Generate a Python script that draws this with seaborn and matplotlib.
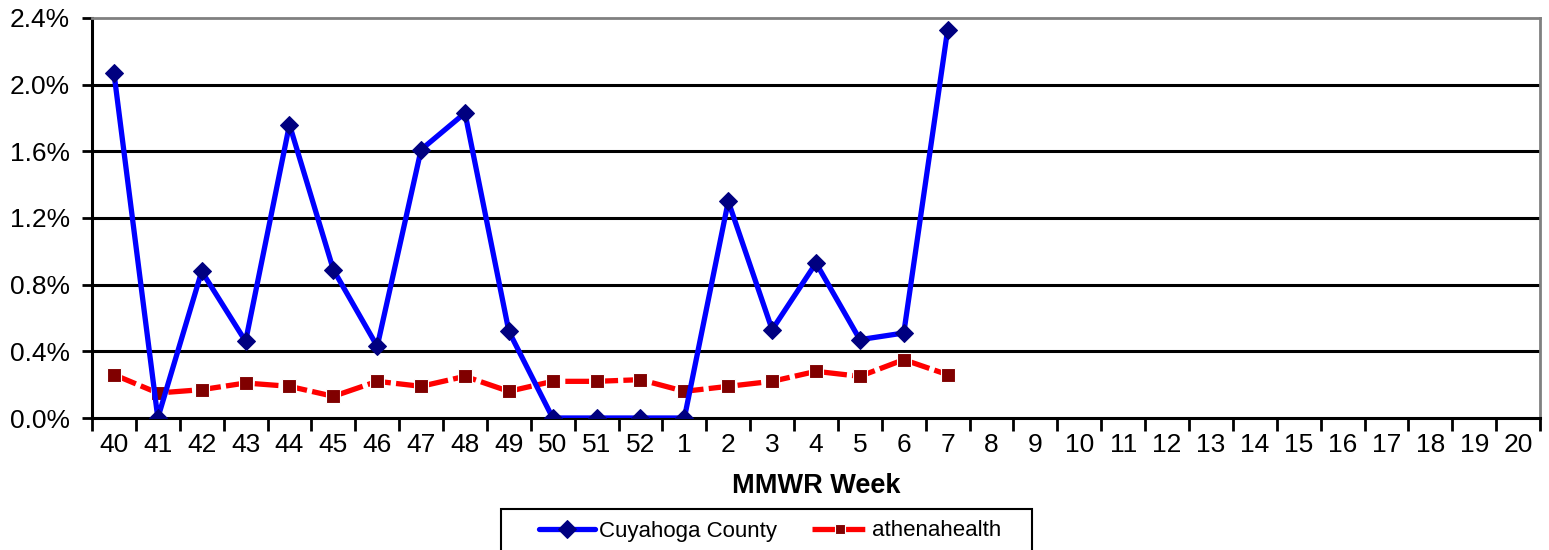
import matplotlib
matplotlib.use("Agg")
import matplotlib.pyplot as plt
import seaborn as sns
import pandas as pd
import numpy as np
from matplotlib.patches import Rectangle
from matplotlib.ticker import FixedLocator, FuncFormatter

# --- Data ---
weeks = ['40', '41', '42', '43', '44', '45', '46', '47', '48', '49', '50', '51', '52',
         '1', '2', '3', '4', '5', '6', '7', '8', '9', '10', '11', '12', '13', '14',
         '15', '16', '17', '18', '19', '20']
cuyahoga = [2.07, 0.0, 0.88, 0.46, 1.76, 0.89, 0.43, 1.61, 1.83, 0.52, 0.0, 0.0, 0.0,
            0.0, 1.30, 0.53, 0.93, 0.47, 0.51, 2.33]
athena = [0.26, 0.15, 0.17, 0.21, 0.19, 0.13, 0.22, 0.19, 0.25, 0.16, 0.22, 0.22, 0.23,
          0.16, 0.19, 0.22, 0.28, 0.25, 0.35, 0.26]

sns.set_style("white")
plt.rcParams['font.family'] = ['Liberation Sans', 'DejaVu Sans']
plt.rcParams['text.color'] = 'black'
plt.rcParams['xtick.color'] = 'black'
plt.rcParams['ytick.color'] = 'black'
plt.rcParams['axes.labelcolor'] = 'black'

df = pd.DataFrame({
    'pos': list(range(len(cuyahoga))) * 2,
    'value': cuyahoga + athena,
    'series': ['Cuyahoga County'] * len(cuyahoga) + ['athenahealth'] * len(athena),
})

fig = plt.figure(figsize=(15.49, 5.5), dpi=100)
ax = fig.add_axes([0.0594, 0.24, 0.9348, 0.7273])

# horizontal grid lines
for yv in [0.4, 0.8, 1.2, 1.6, 2.0]:
    ax.axhline(yv, color='black', lw=2.2, zorder=0)

sns.lineplot(data=df[df.series == 'Cuyahoga County'], x='pos', y='value', ax=ax,
             color='#0000FF', lw=3.8, marker='D', markersize=9.5,
             markerfacecolor='#000080', markeredgecolor='#000080',
             label='Cuyahoga County', zorder=3)
sns.lineplot(data=df[df.series == 'athenahealth'], x='pos', y='value', ax=ax,
             color='#FF0000', lw=3.8, marker='s', markersize=10,
             markerfacecolor='#800000', markeredgecolor='white', markeredgewidth=0.8,
             dashes=(4.5, 1), label='athenahealth', zorder=2)

ax.set_xlim(-0.5, len(weeks) - 0.5)
ax.set_ylim(0, 2.4)
ax.set_yticks(np.arange(0, 2.41, 0.4))
ax.yaxis.set_major_formatter(FuncFormatter(lambda v, p: f"{v:.1f}%"))

ax.xaxis.set_major_locator(FixedLocator(np.arange(-0.5, len(weeks), 1)))
ax.xaxis.set_minor_locator(FixedLocator(np.arange(len(weeks))))
ax.set_xticklabels([])
ax.set_xticklabels(weeks, minor=True)
ax.tick_params(axis='x', which='major', length=9, width=2, direction='out', bottom=True)
ax.tick_params(axis='x', which='minor', length=0, labelsize=19, pad=11)
ax.tick_params(axis='y', length=7, width=2, direction='out', labelsize=19, left=True, pad=9)

for side in ['left', 'bottom']:
    ax.spines[side].set_color('black')
    ax.spines[side].set_linewidth(2.2)
for side in ['top', 'right']:
    ax.spines[side].set_color('#808080')
    ax.spines[side].set_linewidth(2)
    ax.spines[side].set_visible(True)

ax.set_xlabel('MMWR Week', fontsize=19.5, fontweight='bold', labelpad=11)
ax.set_ylabel('')

# legend, with its box drawn separately so it can be wider than the entries
leg = ax.legend(loc='center', ncol=2, fontsize=16, frameon=False,
                handlelength=2.5, handletextpad=0.18, columnspacing=1.6)
leg.set_bbox_to_anchor((770 / 1549, 19 / 550), transform=fig.transFigure)
sizes = [9.0, 7.0]
for h, s in zip(leg.legend_handles, sizes):
    h.set_markersize(s)
fig.patches.append(Rectangle((501 / 1549, -2 / 550), 531 / 1549, 43 / 550,
                             transform=fig.transFigure, fill=False,
                             edgecolor='black', lw=1.5))

fig.savefig('out.png', dpi=100)
